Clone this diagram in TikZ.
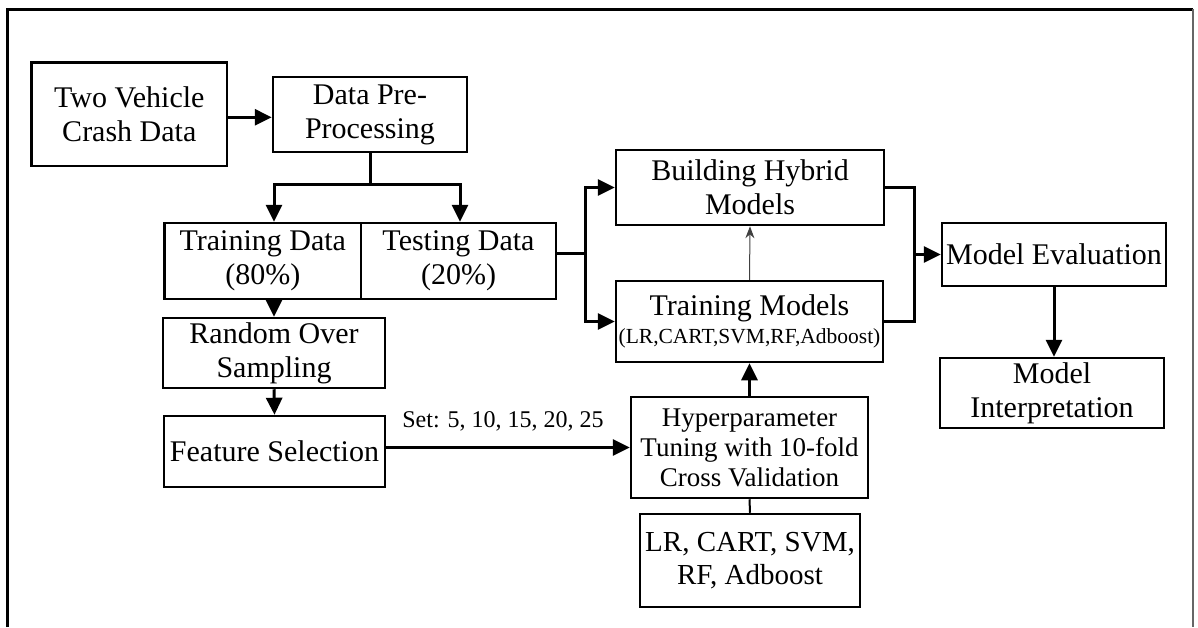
\documentclass[tikz,border=0pt]{standalone}
\usepackage{fontspec}
\setmainfont{Liberation Serif}
\usetikzlibrary{arrows.meta}
\begin{document}
\begin{tikzpicture}[x=1pt,y=-1pt,
  box/.style={draw, line width=2.5pt, rectangle, inner sep=0pt, align=center,
              font=\fontsize{30}{34}\selectfont},
  conn/.style={line width=3pt},
  arr/.style={conn, -{Triangle[length=17pt,width=16pt]}},
  thinarr/.style={line width=1pt, black!75, -{Stealth[length=12pt,width=9pt]}},
  plain/.style={line width=2pt}]
\useasboundingbox (0,0) rectangle (1198,627);

% outer frame
\draw[line width=3pt] (7,627) -- (7,9) -- (1193,9);
\draw[line width=2pt, black!60] (1193,9) -- (1193,627);

% boxes
\node[box, minimum width=195.5pt, minimum height=103.5pt] (tv)  at (129.3,114.3) {Two Vehicle\\Crash Data};
\node[box, minimum width=194pt,   minimum height=75pt]    (dp)  at (370,114.5)   {Data Pre-\\Processing};
\node[box, minimum width=196.4pt, minimum height=76pt]    (trd) at (262.8,261)   {Training Data\\(80\%)};
\node[box, minimum width=195pt,   minimum height=76pt]    (ted) at (458.5,261)   {Testing Data\\(20\%)};
\node[box, minimum width=222pt,   minimum height=70pt]    (ros) at (274,353)     {Random Over\\Sampling};
\node[box, minimum width=221pt,   minimum height=71pt]    (fs)  at (274.5,451.5) {Feature Selection};
\node[box, minimum width=268pt,   minimum height=75pt]    (bh)  at (750,187.5)   {Building Hybrid\\Models};
\node[box, minimum width=267pt,   minimum height=81pt, font=\fontsize{30}{28}\selectfont]
                                                          (tm)  at (749.5,321.5)
     {Training Models\\{\fontsize{21.5}{28}\selectfont(LR,CART,SVM,RF,Adboost)}};
\node[box, minimum width=224pt,   minimum height=63pt]    (me)  at (1054,254.5)  {Model Evaluation};
\node[box, minimum width=224pt,   minimum height=70pt]    (mi)  at (1052,393)    {Model\\Interpretation};
\node[box, minimum width=237pt,   minimum height=101pt, font=\fontsize{27}{30}\selectfont]
                                                          (hp)  at (749.5,447.5)
     {Hyperparameter\\Tuning with 10-fold\\Cross Validation};
\node[box, minimum width=220pt,   minimum height=93pt, font=\fontsize{29}{33}\selectfont]
                                                          (lr)  at (750,560.5)
     {LR, CART, SVM,\\RF, Adboost};

% junction points
\coordinate (spL)  at (274,184);
\coordinate (spR)  at (460,184);
\coordinate (busL) at (585,253);
\coordinate (busR) at (914,254.5);

% connectors
\draw[arr] ([yshift=-3pt]tv.east) -- ([yshift=-3pt]tv.east -| dp.west);
\draw[arr] (dp.south) |- (spL) -- (spL |- trd.north);
\draw[arr] (dp.south) |- (spR) -- (spR |- ted.north);
\draw[arr] (ros.north |- trd.south) -- (ros.north);
\draw[arr] (ros.south) -- (fs.north);
\draw[arr] (fs.east |- hp.west) --
  node[above=15pt, xshift=-5pt, inner sep=0pt, font=\fontsize{24}{28}\selectfont] (setlbl)
  {Set: 5, 10, 15, 20, 25} (hp.west);

\draw[conn] (busL -| ted.east) -- (busL);
\draw[arr] (busL) |- (bh.west);
\draw[arr] (busL) |- (tm.west);

\draw[thinarr] (tm.north) -- (bh.south);
\draw[arr] (hp.north) -- (tm.south);
\draw[plain] (hp.south) -- (lr.north);

\draw[conn] (bh.east) -| (busR);
\draw[conn] (tm.east) -| (busR);
\draw[arr] (busR) -- (me.west);
\draw[arr] (me.south) -- (me.south |- mi.north);
\end{tikzpicture}
\end{document}
